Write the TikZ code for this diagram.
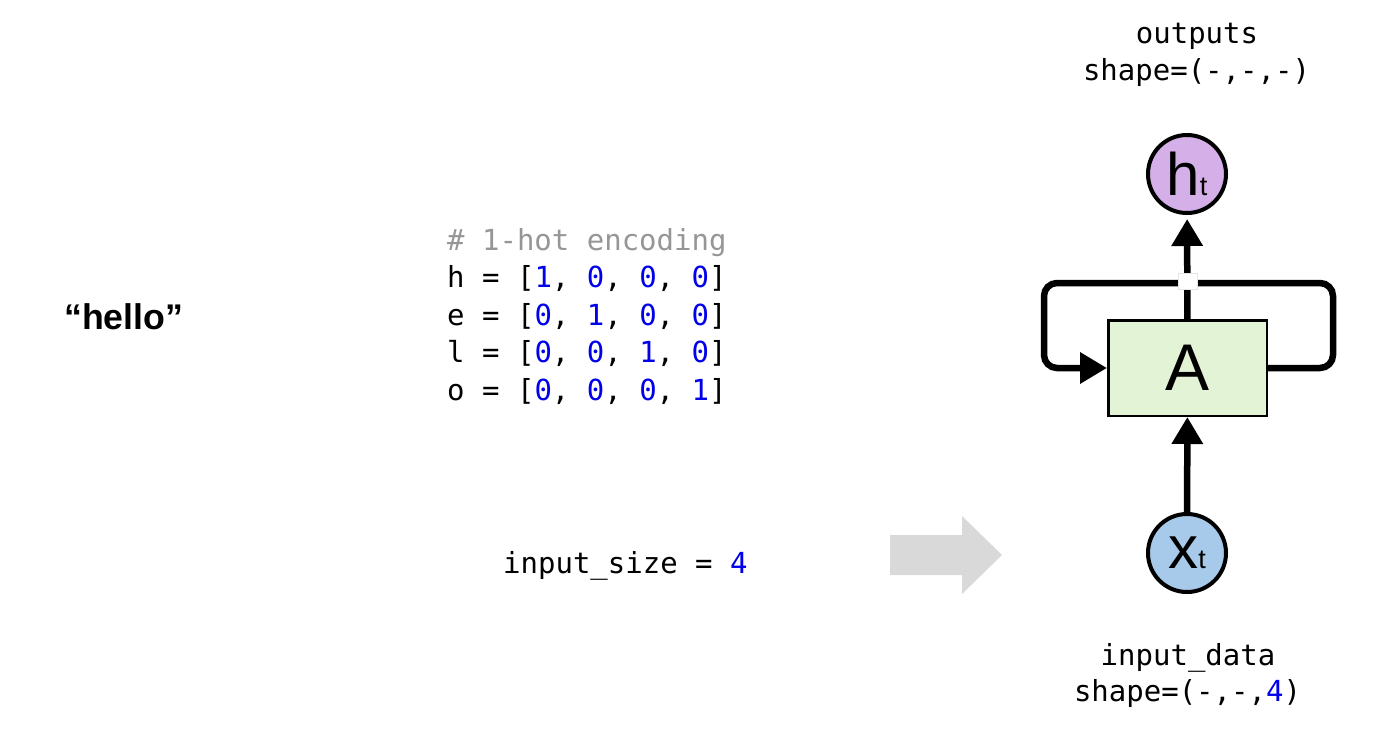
\documentclass[tikz,border=0pt]{standalone}
\usepackage{fontspec}
\setmainfont{Liberation Sans}
\setmonofont{DejaVu Sans Mono}
\usetikzlibrary{arrows.meta}
\definecolor{codeblue}{RGB}{0,0,235}
\definecolor{codegray}{RGB}{150,150,150}
\definecolor{hfill}{RGB}{213,175,232}
\definecolor{xfill}{RGB}{168,202,234}
\definecolor{cellfill}{RGB}{226,243,214}
\definecolor{arrowgray}{RGB}{217,217,217}
\newcommand{\bl}[1]{\textcolor{codeblue}{#1}}
\tikzset{
	code/.style={font=\ttfamily\fontsize{29}{35}\selectfont, inner sep=0pt, anchor=base west},
	lbl/.style={font=\ttfamily\fontsize{29}{35}\selectfont, inner sep=0pt, anchor=base},
	state/.style={draw, circle, line width=4pt, minimum size=78pt, inner sep=0pt},
	cell/.style={draw, line width=2.5pt, fill=cellfill, minimum width=158.5pt, minimum height=95.5pt, inner sep=0pt, font=\fontsize{66}{66}\selectfont},
	flow/.style={line width=6.5pt, -{Triangle[width=30pt,length=27pt]}},
	recur/.style={line width=6.5pt, rounded corners=13pt, -{Triangle[width=30pt,length=27pt]}}
}
\begin{document}
\frenchspacing
\begin{tikzpicture}[x=1pt,y=-1pt]
		\useasboundingbox (0,0) rectangle (1384,734);
		\node[font=\bfseries\fontsize{35.7}{40}\selectfont, inner sep=0pt, anchor=base west] (word) at (64,329) {“hello”};
		
		\node[code, text=codegray] (c0) at (447,250) {\# 1-hot encoding};
		\node[code] (c1) at (447,287.5) {h = [\bl{1}, \bl{0}, \bl{0}, \bl{0}]};
		\node[code] (c2) at (447,325) {e = [\bl{0}, \bl{1}, \bl{0}, \bl{0}]};
		\node[code] (c3) at (447,362.5) {l = [\bl{0}, \bl{0}, \bl{1}, \bl{0}]};
		\node[code] (c4) at (447,400) {o = [\bl{0}, \bl{0}, \bl{0}, \bl{1}]};
		\node[code] (size) at (503,573) {input\_size = \bl{4}};
		
		%\node[single arrow] ...
		\fill[arrowgray] (890,535) -- (962,535) -- (962,516) -- (1002,555) -- (962,594) -- (962,575) -- (890,575) -- cycle;
		
		\node[lbl] (out1) at (1197,43) {outputs};
		\node[lbl] (out2) at (1196.5,80) {shape=(-,-,-)};
		\node[lbl] (in1) at (1188,665) {input\_data};
		\node[lbl] (in2) at (1187.5,701) {shape=(-,-,\bl{4})};
		
		\node[state, fill=hfill] (h) at (1187,174) {{\fontsize{60}{60}\selectfont h}{\fontsize{27}{27}\selectfont t}};
		\node[state, fill=xfill] (x) at (1187,553) {{\fontsize{60}{60}\selectfont x}{\fontsize{27}{27}\selectfont t}};
		\node[cell] (A) at (1187.5,368) {A};
		
		\draw[recur] (A.east) -- ++(65,0) -- ++(0,-85) -| ([xshift=-63pt]A.west) -- (A.west);
		\draw[flow] (x) -- (A);
		\draw[flow, shorten >=4pt] (A) -- (h);
		\node[fill=white, draw=gray!20, line width=0.5pt, minimum width=19pt, minimum height=16pt, inner sep=0pt] (gap) at (1188,281) {};
		\end{tikzpicture}
\end{document}
